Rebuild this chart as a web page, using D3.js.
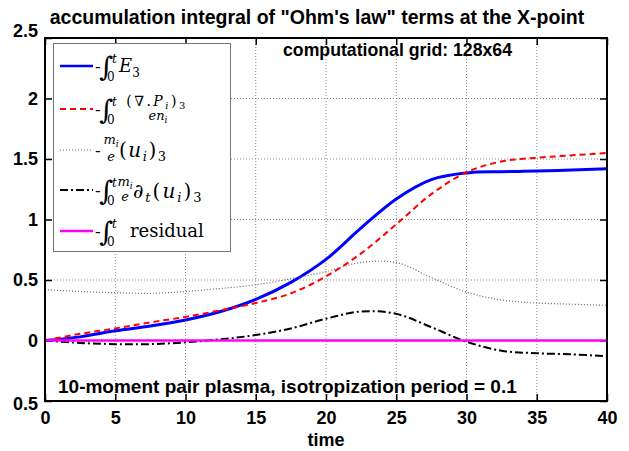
<!DOCTYPE html>
<html>
<head>
<meta charset="utf-8">
<script src="https://cdn.jsdelivr.net/npm/d3@7"></script>
<style>
body { margin: 0; background: #fff; }
svg { display: block; }
</style>
</head>
<body>
<svg width="629" height="451"></svg>
<script>
// values
var time     = [0, 2.5, 5, 7.5, 10, 12.5, 15, 17.5, 20, 22.5, 25, 27.5, 30, 32.5, 35, 37.5, 40];
var e3       = [0, 0.03, 0.08, 0.12, 0.17, 0.24, 0.34, 0.48, 0.67, 0.93, 1.17, 1.33, 1.385, 1.395, 1.40, 1.41, 1.42];
var divP     = [0, 0.055, 0.10, 0.15, 0.195, 0.25, 0.31, 0.39, 0.53, 0.72, 0.96, 1.21, 1.39, 1.48, 1.51, 1.53, 1.55];
var inertia  = [0.42, 0.405, 0.395, 0.39, 0.405, 0.43, 0.46, 0.51, 0.57, 0.645, 0.645, 0.52, 0.40, 0.335, 0.31, 0.30, 0.29];
var dtInert  = [0, -0.02, -0.03, -0.03, -0.015, 0.01, 0.045, 0.10, 0.18, 0.24, 0.22, 0.11, -0.01, -0.085, -0.105, -0.115, -0.13];
var residual = [0, 0, 0, 0, 0, 0, 0, 0, 0, 0, 0, 0, 0, 0, 0, 0, 0];

var xTicks = [0, 5, 10, 15, 20, 25, 30, 35, 40];
var yTicks = [-0.5, 0, 0.5, 1, 1.5, 2, 2.5];
var yTickLabels = ["0.5", "0", "0.5", "1", "1.5", "2", "2.5"];

var svg = d3.select("svg");
var pLeft = 45, pRight = 607, pTop = 38, pBottom = 401;

var x = d3.scaleLinear().domain([0, 40]).range([pLeft, pRight]);
var y = d3.scaleLinear().domain([-0.5, 2.5]).range([pBottom, pTop]);

var sans = "'Liberation Sans', Arial, Helvetica, sans-serif";
var serif = "'DejaVu Serif', serif";

// title
svg.append("text")
	.attr("x", 317).attr("y", 24)
	.attr("text-anchor", "middle")
	.attr("font-family", sans).attr("font-size", 19.5).attr("font-weight", "bold")
	.text("accumulation integral of \"Ohm's law\" terms at the X-point");

// grid
var grid = svg.append("g")
	.attr("stroke", "#8a8a8a").attr("stroke-width", 1).attr("stroke-dasharray", "1,2");
xTicks.slice(1, -1).forEach(function(t) {
	grid.append("line").attr("x1", x(t)).attr("x2", x(t)).attr("y1", pTop).attr("y2", pBottom);
});
yTicks.slice(1, -1).forEach(function(t) {
	grid.append("line").attr("x1", pLeft).attr("x2", pRight).attr("y1", y(t)).attr("y2", y(t));
});

// axes, ticks pointing inward
svg.append("g").attr("transform", "translate(0," + pBottom + ")")
	.call(d3.axisBottom(x).tickValues(xTicks).tickSize(-7).tickPadding(10).tickFormat(d3.format("d")));
svg.append("g").attr("transform", "translate(0," + pTop + ")")
	.call(d3.axisTop(x).tickValues(xTicks).tickSize(-7).tickFormat(""));
var gy = svg.append("g").attr("transform", "translate(" + pLeft + ",0)")
	.call(d3.axisLeft(y).tickValues(yTicks).tickSize(-7).tickPadding(7)
		.tickFormat(function(d, i) { return yTickLabels[i]; }));
svg.append("g").attr("transform", "translate(" + pRight + ",0)")
	.call(d3.axisRight(y).tickValues(yTicks).tickSize(-7).tickFormat(""));

svg.selectAll(".domain").remove();
svg.selectAll(".tick line").attr("stroke", "#000").attr("stroke-width", 1.5);
svg.selectAll(".tick text")
	.attr("font-family", sans).attr("font-size", 18).attr("font-weight", "bold").attr("fill", "#000");
// end labels sit a little off their ticks in the original
gy.selectAll(".tick text").attr("dy", function(d) {
	return d == 2.5 ? "-0.1em" : d == -0.5 ? "0.45em" : "0.32em";
});

svg.append("text")
	.attr("x", 326).attr("y", 446)
	.attr("text-anchor", "middle")
	.attr("font-family", sans).attr("font-size", 18).attr("font-weight", "bold")
	.text("time");

// curves
svg.append("clipPath").attr("id", "clip")
	.append("rect").attr("x", pLeft).attr("y", pTop).attr("width", pRight - pLeft).attr("height", pBottom - pTop);

var series = [
	{ values: e3,       color: "#0000ff", width: 3,   dash: null },
	{ values: divP,     color: "#ff0000", width: 2,   dash: "6,4" },
	{ values: inertia,  color: "#666666", width: 1.2, dash: "1,2" },
	{ values: dtInert,  color: "#000000", width: 2,   dash: "8,3,2,3" },
	{ values: residual, color: "#ff00ff", width: 2.5, dash: null }
];

var line = d3.line()
	.x(function(d) { return x(d[0]); })
	.y(function(d) { return y(d[1]); })
	.curve(d3.curveCatmullRom.alpha(0.5));

var plot = svg.append("g").attr("clip-path", "url(#clip)");
series.forEach(function(s) {
	plot.append("path")
		.datum(time.map(function(t, i) { return [t, s.values[i]]; }))
		.attr("d", line)
		.attr("fill", "none")
		.attr("stroke", s.color)
		.attr("stroke-width", s.width)
		.attr("stroke-dasharray", s.dash);
});

// frame
svg.append("rect")
	.attr("x", pLeft).attr("y", pTop).attr("width", pRight - pLeft).attr("height", pBottom - pTop)
	.attr("fill", "none").attr("stroke", "#000").attr("stroke-width", 2);

// annotations
svg.append("text")
	.attr("x", 283).attr("y", 56)
	.attr("font-family", sans).attr("font-size", 17.7).attr("font-weight", "bold")
	.text("computational grid: 128x64");
svg.append("text")
	.attr("x", 58).attr("y", 393)
	.attr("font-family", sans).attr("font-size", 19).attr("font-weight", "bold")
	.text("10-moment pair plasma, isotropization period = 0.1");

// legend
var lg = svg.append("g");
lg.append("rect")
	.attr("x", 53.5).attr("y", 43.5).attr("width", 177).attr("height", 208)
	.attr("fill", "#fff").attr("stroke", "#777").attr("stroke-width", 1);

var rows = [66, 109, 150, 190, 231];
series.forEach(function(s, i) {
	lg.append("line")
		.attr("x1", 60).attr("x2", 93).attr("y1", rows[i]).attr("y2", rows[i])
		.attr("stroke", s.color)
		.attr("stroke-width", Math.min(s.width, 2.5))
		.attr("stroke-dasharray", s.dash);
});

function tx(px, py, size, parts, anchor, spacing) {
	var t = lg.append("text")
		.attr("x", px).attr("y", py)
		.attr("font-family", serif).attr("font-size", size)
		.attr("text-anchor", anchor || "start");
	if (spacing) t.attr("letter-spacing", spacing);
	parts.forEach(function(p) {
		var sp = t.append("tspan").text(p[0]);
		if (p[1] == "i") sp.attr("font-style", "italic");
		if (p[2]) sp.attr("font-size", p[2]);
		if (p[3]) sp.attr("dy", p[3]);
	});
	return t;
}

function integral(py) {
	tx(95, py, 17, [["-"]]);
	tx(99, py + 4, 27, [["\u222B"]]);
	tx(112, py - 9, 12, [["t", "i"]]);
	tx(107, py + 9, 12, [["0"]]);
}

// entry 1
integral(72);
tx(119, 72, 18, [["E", "i"], ["3", "", 12, 5]]);

// entry 2
integral(115);
tx(157, 106, 14, [["(\u2207.", ""], ["P", "i"], ["i", "i", 10, 3], [")", "", 14, -3], ["3", "", 10, 3]], "middle", 2.5);
tx(158, 120, 13, [["en", "i"], ["i", "i", 9, 3]], "middle");

// entry 3
tx(95, 156, 17, [["-"]]);
tx(111, 144, 13, [["m", "i"], ["i", "i", 9, 3]], "middle");
tx(111, 161, 13, [["e", "i"]], "middle");
tx(119, 157, 20, [["(", ""], ["u", "i"], ["i", "i", 13, 4], [")", "", 20, -4], ["3", "", 13, 4]], "start", 1.5);

// entry 4
integral(196);
tx(125, 186, 13, [["m", "i"], ["i", "i", 9, 3]], "middle");
tx(125, 201, 13, [["e", "i"]], "middle");
tx(133, 198, 20, [["\u2202", "i"], ["t", "i", 13, 4], ["(", "", 20, -4], ["u", "i"], ["i", "i", 13, 4], [")", "", 20, -4], ["3", "", 13, 4]], "start", 2);

// entry 5
integral(237);
tx(130, 237, 18, [["residual"]]);
</script>
</body>
</html>
